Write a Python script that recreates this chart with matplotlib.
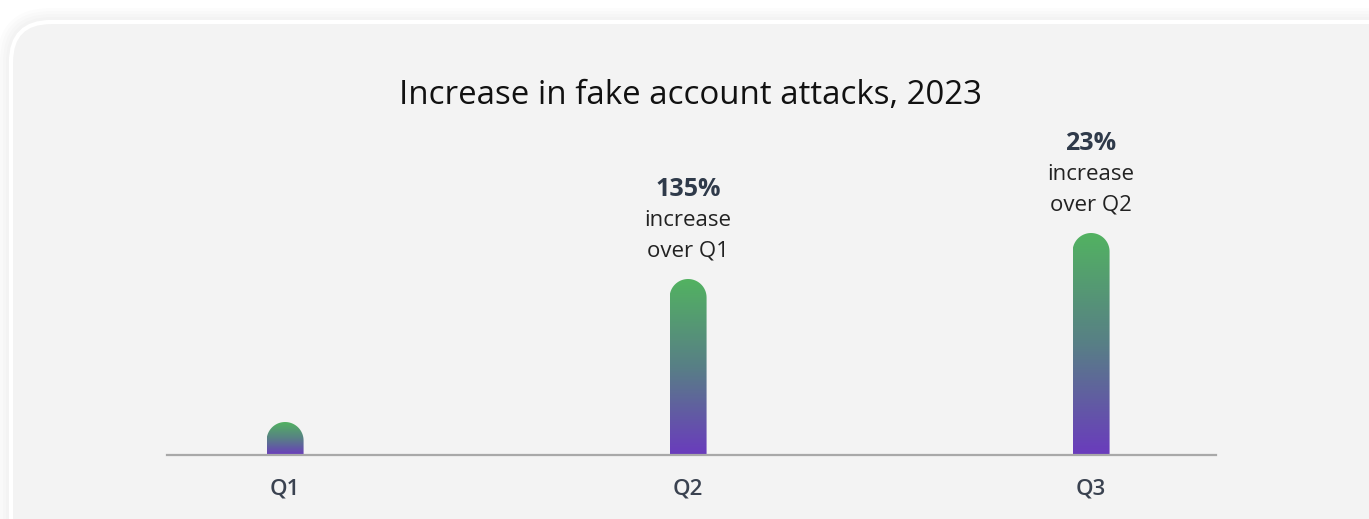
import matplotlib
matplotlib.use("Agg")
import matplotlib.pyplot as plt
import numpy as np
from matplotlib.patches import FancyBboxPatch, PathPatch
from matplotlib.path import Path
from matplotlib.colors import LinearSegmentedColormap

# data (relative bar heights)
quarters = ["Q1", "Q2", "Q3"]
values = [33, 176, 222]
pct_labels = ["", "135%", "23%"]
line1 = ["", "increase", "increase"]
line2 = ["", "over Q1", "over Q2"]
title = "Increase in fake account attacks, 2023"

FONT = "Open Sans"
W, H = 1369, 519
fig = plt.figure(figsize=(W / 100, H / 100), dpi=100)
fig.patch.set_facecolor("white")

# background card with soft shadow
bg = fig.add_axes([0, 0, 1, 1])
bg.set_xlim(0, W)
bg.set_ylim(H, 0)
bg.axis("off")
for i in range(5):
    g = 14 - i * 3
    bg.add_patch(FancyBboxPatch((11 - g, 22 - g), 1420 + 2 * g, 600 + 2 * g,
                                boxstyle="round,pad=0,rounding_size=%d" % (40 + g),
                                fc="black", ec="none", alpha=0.012))
bg.add_patch(FancyBboxPatch((11, 22), 1420, 600,
                            boxstyle="round,pad=0,rounding_size=40",
                            fc="#f3f3f3", ec="white", lw=3))

# chart axes: baseline at y=455 px, from x=167 to x=1216 px
ax_l, ax_r, ax_b, ax_t = 167, 1216, 455, 130
ax = fig.add_axes([ax_l / W, (H - ax_b) / H, (ax_r - ax_l) / W, (ax_b - ax_t) / H])
ax.set_facecolor("none")
x = np.arange(len(quarters))
ax.set_xlim(-0.293, 2.31)
ax.set_ylim(0, ax_b - ax_t)
for s in ["top", "right", "left"]:
    ax.spines[s].set_visible(False)
ax.spines["bottom"].set_color("#a8a8a8")
ax.spines["bottom"].set_linewidth(1.6)
ax.set_yticks([])
ax.set_xticks(x)
ax.set_xticklabels(quarters, fontsize=16, fontweight="semibold", color="#3a4250", family=FONT)
ax.tick_params(axis="x", length=0, pad=17)

cmap = LinearSegmentedColormap.from_list("g", ["#6a3bbd", "#587f86", "#52b261"])
grad = np.linspace(0, 1, 256).reshape(-1, 1)

px_per_x = (ax_r - ax_l) / (ax.get_xlim()[1] - ax.get_xlim()[0])
bw = 37 / px_per_x  # bar width in data units
ry = 18.5  # top radius in y data units (1 unit = 1 px)
t = np.linspace(0, np.pi, 40)
for xi, v, p, s1, s2 in zip(x, values, pct_labels, line1, line2):
    x0, x1 = xi - bw / 2, xi + bw / 2
    top = v - ry
    arc = np.column_stack([xi + (bw / 2) * np.cos(t), top + ry * np.sin(t)])
    verts = np.vstack([[x1, 0], [x1, top], arc, [x0, top], [x0, 0], [x1, 0]])
    patch = PathPatch(Path(verts), fc="none", ec="none")
    ax.add_patch(patch)
    im = ax.imshow(grad, cmap=cmap, origin="lower", extent=[x0, x1, 0, v],
                   aspect="auto", interpolation="bilinear")
    im.set_clip_path(patch)
    if p:
        ax.text(xi, v + 28, s2, ha="center", va="center", fontsize=16,
                color="#222222", family=FONT)
        ax.text(xi, v + 58, s1, ha="center", va="center", fontsize=16,
                color="#222222", family=FONT)
        ax.text(xi, v + 89, p, ha="center", va="center", fontsize=18,
                fontweight="bold", color="#2f3a4a", family=FONT)

fig.text(691 / W, 1 - 95 / H, title, ha="center", va="center", fontsize=23.8,
         color="#111111", family=FONT, fontweight="medium")

fig.savefig("out.png", dpi=100, facecolor=fig.get_facecolor())
